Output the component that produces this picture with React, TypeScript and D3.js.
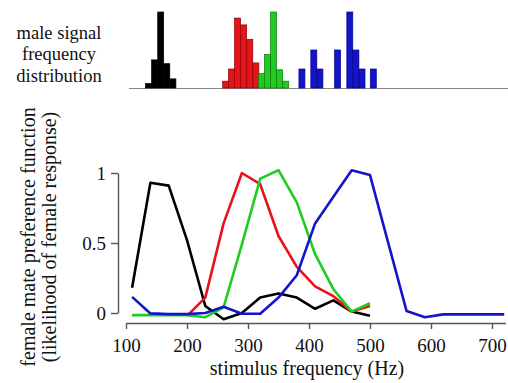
import React, { useEffect, useRef } from 'react'
import * as d3 from 'd3'

// preference functions (stimulus Hz -> likelihood of female response)
const blackFreq = [110, 140, 170, 200, 230, 260, 290, 320, 350, 380, 410, 440, 470, 500]
const blackPref = [0.18, 0.93, 0.91, 0.52, 0.05, -0.045, 0.0, 0.11, 0.14, 0.11, 0.03, 0.09, 0.01, -0.02]
const redFreq = [200, 230, 260, 290, 320, 350, 380, 410, 440, 470, 500]
const redPref = [-0.02, 0.11, 0.64, 1.0, 0.92, 0.55, 0.33, 0.19, 0.12, 0.01, 0.05]
const greenFreq = [110, 140, 170, 200, 230, 260, 290, 320, 350, 380, 410, 440, 470, 500]
const greenPref = [-0.015, -0.015, -0.015, -0.015, -0.03, 0.04, 0.49, 0.96, 1.02, 0.79, 0.42, 0.17, 0.01, 0.07]
const blueFreq = [110, 140, 170, 200, 230, 260, 290, 320, 350, 380, 410, 440, 470, 500, 560, 590, 620, 650, 680, 720]
const bluePref = [0.115, -0.003, -0.008, -0.008, 0.0, 0.045, -0.005, -0.005, 0.11, 0.27, 0.64, 0.83, 1.02, 0.985, 0.014, -0.03, -0.01, -0.01, -0.01, -0.01]

// male signal histograms: bin left edge (Hz) and relative height
const binWidth = 9.8
const blackBins = [132, 142, 152, 162, 172]
const blackCounts = [0.06, 0.37, 1, 0.32, 0.12]
const redBins = [258.5, 268, 278, 288, 298, 308]
const redCounts = [0.09, 0.25, 0.92, 0.83, 0.64, 0.33]
const greenBins = [317, 327, 337, 347, 357]
const greenCounts = [0.19, 0.44, 1, 0.24, 0.09]
const blueBins = [383.5, 403, 413, 442, 462, 472, 482, 500.5]
const blueCounts = [0.25, 0.5, 0.25, 0.5, 1, 0.5, 0.25, 0.25]

const xTicks = [100, 200, 300, 400, 500, 600, 700]
const yTicks = [0, 0.5, 1]

const series = [
  { freq: blackFreq, pref: blackPref, bins: blackBins, counts: blackCounts, color: '#000000', edge: '#000000' },
  { freq: redFreq, pref: redPref, bins: redBins, counts: redCounts, color: '#ea1219', edge: '#8a0000' },
  { freq: greenFreq, pref: greenPref, bins: greenBins, counts: greenCounts, color: '#1fcc1f', edge: '#0a7a0a' },
  { freq: blueFreq, pref: bluePref, bins: blueBins, counts: blueCounts, color: '#1414c8', edge: '#00008a' }
]

const font = 'Liberation Serif, Times New Roman, serif'

export default function App() {
  const xAxisRef = useRef<SVGGElement>(null)
  const yAxisRef = useRef<SVGGElement>(null)

  const x = d3.scaleLinear().domain([100, 700]).range([126, 492])
  const y = d3.scaleLinear().domain([0, 1]).range([313, 173])
  const hy = d3.scaleLinear().domain([0, 1]).range([88, 12])

  const line = d3
    .line<[number, number]>()
    .x(d => x(d[0]))
    .y(d => y(d[1]))

  useEffect(() => {
    const xs = x.copy().domain([100, 722]).range([126, x(722)])
    const gx = d3.select(xAxisRef.current)
    gx.selectAll('*').remove()
    gx.call(d3.axisBottom(xs).tickValues(xTicks).tickSize(6).tickSizeOuter(0).tickPadding(10).tickFormat(d3.format('d')))
    gx.selectAll('path, line').attr('stroke', '#555').attr('stroke-width', 1.4)
    gx.selectAll('text').style('font-family', font).attr('font-size', 19).attr('fill', '#111')

    const gy = d3.select(yAxisRef.current)
    gy.selectAll('*').remove()
    gy.call(d3.axisLeft(y).tickValues(yTicks).tickSize(7).tickSizeOuter(0).tickPadding(5).tickFormat(d => String(d)))
    gy.selectAll('path, line').attr('stroke', '#555').attr('stroke-width', 1.4)
    gy.selectAll('text').style('font-family', font).attr('font-size', 19).attr('fill', '#111')
  }, [])

  return (
    <svg width={508} height={383} style={{ position: 'absolute', left: 0, top: 0, background: '#fff' }}>
      <g style={{ fontFamily: font }} fontSize={18.5} fill="#111" textAnchor="middle">
        <text x={59} y={38.5}>male signal</text>
        <text x={59} y={60}>frequency</text>
        <text x={59} y={81.5}>distribution</text>
      </g>

      <line x1={129} x2={508} y1={88.5} y2={88.5} stroke="#888" strokeWidth={1.2} />
      {series.map((s, si) => (
        <g key={'h' + si}>
          {s.bins.map((b, i) => (
            <rect
              key={i}
              x={x(b)}
              width={x(b + binWidth) - x(b)}
              y={hy(s.counts[i])}
              height={hy(0) - hy(s.counts[i])}
              fill={s.color}
              stroke={s.edge}
              strokeWidth={0.7}
            />
          ))}
        </g>
      ))}

      <g ref={yAxisRef} transform="translate(118,0)" />
      <g ref={xAxisRef} transform="translate(0,323)" />

      {series.map((s, si) => (
        <path
          key={'l' + si}
          d={line(s.freq.map((f, i) => [f, s.pref[i]] as [number, number])) || ''}
          fill="none"
          stroke={s.color}
          strokeWidth={2.6}
          strokeLinejoin="round"
        />
      ))}

      <g style={{ fontFamily: font }} fontSize={20} fill="#111" textAnchor="middle">
        <text transform="translate(35,237) rotate(-90)">female mate preference function</text>
        <text transform="translate(56,237) rotate(-90)">(likelihood of female response)</text>
        <text x={307} y={375}>stimulus frequency (Hz)</text>
      </g>
    </svg>
  )
}
